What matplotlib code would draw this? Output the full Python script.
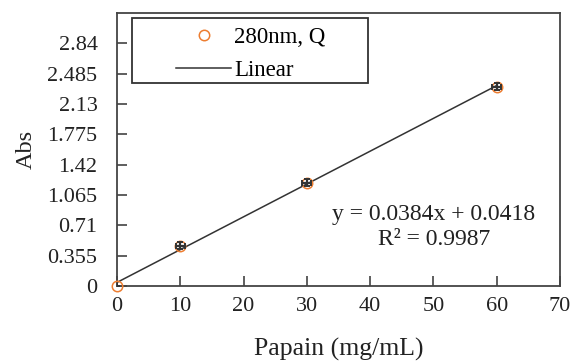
import matplotlib
matplotlib.use('Agg')
import matplotlib.pyplot as plt
from matplotlib.patches import Rectangle
import numpy as np

plt.rcParams['font.family'] = ['Liberation Serif', 'DejaVu Serif']

# Data
conc = [0, 10, 30, 60]
absorb = [0.0, 0.47, 1.21, 2.33]
err = [0.0, 0.04, 0.04, 0.04]
slope = 0.0384
intercept = 0.0418
yticks = [0, 0.355, 0.71, 1.065, 1.42, 1.775, 2.13, 2.485, 2.84]
ytick_labels = ['0', '0.355', '0.71', '1.065', '1.42', '1.775', '2.13', '2.485', '2.84']

fig = plt.figure(figsize=(5.74, 3.62), dpi=100)
ax = fig.add_axes([117/574, 1-286/362, (560-117)/574, (286-13)/362])

# Fit line
x_fit = np.array([0, 60])
ax.plot(x_fit, slope*x_fit + intercept, color='#333333', lw=1.1, label='Linear', zorder=2)

# Points with small error bars
ax.errorbar(conc, absorb, yerr=err, xerr=[0.7 if e else 0 for e in err], fmt='none',
            ecolor='#333333', elinewidth=1.6, capsize=2.5, capthick=1.4, zorder=5)
ax.plot(conc, absorb, 'o', mfc='none', mec='#ED7D31', ms=7.5, mew=1.1,
        label='280nm, Q', zorder=4, clip_on=False)

ax.set_xlim(0, 70)
ax.set_ylim(0, 3.195)
ax.set_xticks(range(0, 71, 10))
ax.set_yticks(yticks)
ax.set_yticklabels(ytick_labels)
ax.tick_params(direction='in', length=7, width=1.1, colors='#333333', labelsize=16,
               labelcolor='#222222')
ax.tick_params(axis='y', pad=14)
ax.tick_params(axis='x', pad=8)
for s in ax.spines.values():
    s.set_color('#444444')
    s.set_linewidth(1.3)

ax.set_xlabel('Papain (mg/mL)', fontsize=18.5, labelpad=16, color='#222222')
ax.set_ylabel('Abs', fontsize=17.5, labelpad=8, color='#222222')

# Legend box drawn as a rectangle, entries placed without frame
ax.add_patch(Rectangle(((132-117)/443, (286-83)/273), (368-132)/443, (83-18)/273,
                       transform=ax.transAxes, fill=False, ec='#333333', lw=1.3,
                       clip_on=False, zorder=6))
handles, labels = ax.get_legend_handles_labels()
ax.legend(handles[::-1], labels[::-1], loc='upper left',
          bbox_to_anchor=((176-117)/443, (286-27)/273),
          fontsize=16.5, frameon=False, borderpad=0, labelspacing=0.5,
          handlelength=2.4, handletextpad=0.15, borderaxespad=0)

ax.text((434-117)/443, (286-227)/273, 'y = 0.0384x + 0.0418\nR² = 0.9987',
        transform=ax.transAxes, ha='center', va='center', fontsize=17,
        linespacing=1.2, color='#222222')

fig.savefig('out.png', dpi=100)
